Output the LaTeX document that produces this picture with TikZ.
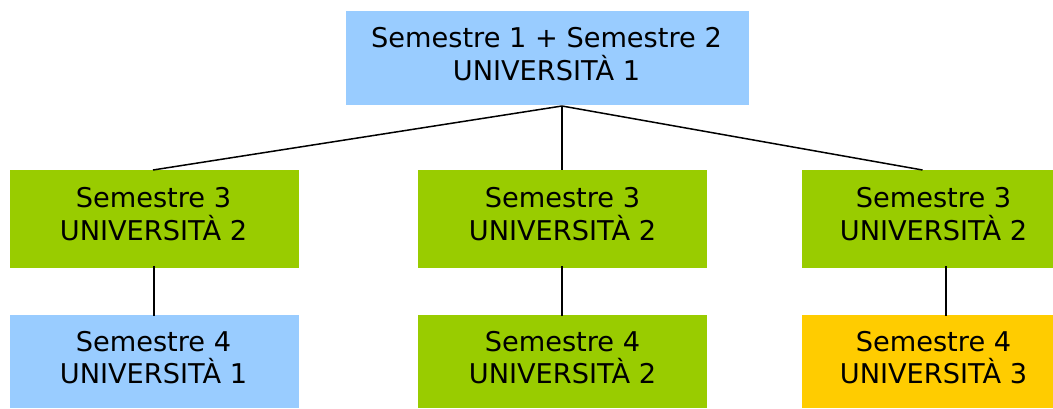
\documentclass[tikz,border=0pt]{standalone}
\usepackage{fontspec}
\setmainfont{DejaVu Sans}
\definecolor{cblue}{HTML}{99CCFF}
\definecolor{cgreen}{HTML}{99CC00}
\definecolor{corange}{HTML}{FFCC00}
\tikzset{
  box/.style={rectangle, inner sep=0pt},
  txt/.style={inner sep=0pt, align=center, text=black,
    font=\fontsize{27.2}{32.5}\selectfont},
  conn/.style={draw=black, line width=1.5pt}
}
\begin{document}
\begin{tikzpicture}[x=1pt,y=-1pt]
\useasboundingbox (0,0) rectangle (1053,408);
\begin{scope}
\clip (0,0) rectangle (1053,408);
% top
\node[box, fill=cblue, minimum width=403pt, minimum height=94pt] (top) at (547.5,58) {};
% middle row
\node[box, fill=cgreen, minimum width=289pt, minimum height=98pt] (l3) at (154.5,219) {};
\node[box, fill=cgreen, minimum width=289pt, minimum height=98pt] (m3) at (562.5,219) {};
\node[box, fill=cgreen, minimum width=263pt, minimum height=98pt] (r3) at (933.5,219) {};
% bottom row
\node[box, fill=cblue, minimum width=289pt, minimum height=93pt] (l4) at (154.5,361.5) {};
\node[box, fill=cgreen, minimum width=289pt, minimum height=93pt] (m4) at (562.5,361.5) {};
\node[box, fill=corange, minimum width=263pt, minimum height=93pt] (r4) at (933.5,361.5) {};
\end{scope}
% texts
\node[txt] (toptxt) at ([xshift=-1pt,yshift=4pt]top.center) {Semestre 1 + Semestre 2\\UNIVERSITÀ 1};
\node[txt] (l3txt) at ([xshift=-1pt,yshift=5pt]l3.center) {Semestre 3\\UNIVERSITÀ 2};
\node[txt] (m3txt) at ([yshift=5pt]m3.center) {Semestre 3\\UNIVERSITÀ 2};
\node[txt] (r3txt) at ([yshift=5pt]r3.center) {Semestre 3\\UNIVERSITÀ 2};
\node[txt] (l4txt) at ([xshift=-1pt,yshift=4pt]l4.center) {Semestre 4\\UNIVERSITÀ 1};
\node[txt] (m4txt) at ([yshift=4pt]m4.center) {Semestre 4\\UNIVERSITÀ 2};
\node[txt] (r4txt) at ([yshift=4pt]r4.center) {Semestre 4\\UNIVERSITÀ 3};
% connector end points
\coordinate (hub) at (562,106);
\coordinate (l3t) at (153,170);
\coordinate (m3t) at (562,170);
\coordinate (r3t) at (922.5,170);
\coordinate (l3b) at (154,266);
\coordinate (l4t) at (154,316);
\coordinate (m3b) at (562,266);
\coordinate (m4t) at (562,316);
\coordinate (r3b) at (946,266);
\coordinate (r4t) at (946,316);
\draw[conn] (hub) -- (l3t);
\draw[conn] (hub) -- (m3t);
\draw[conn] (hub) -- (r3t);
\draw[conn] (l3b) -- (l4t);
\draw[conn] (m3b) -- (m4t);
\draw[conn] (r3b) -- (r4t);
\end{tikzpicture}
\end{document}
